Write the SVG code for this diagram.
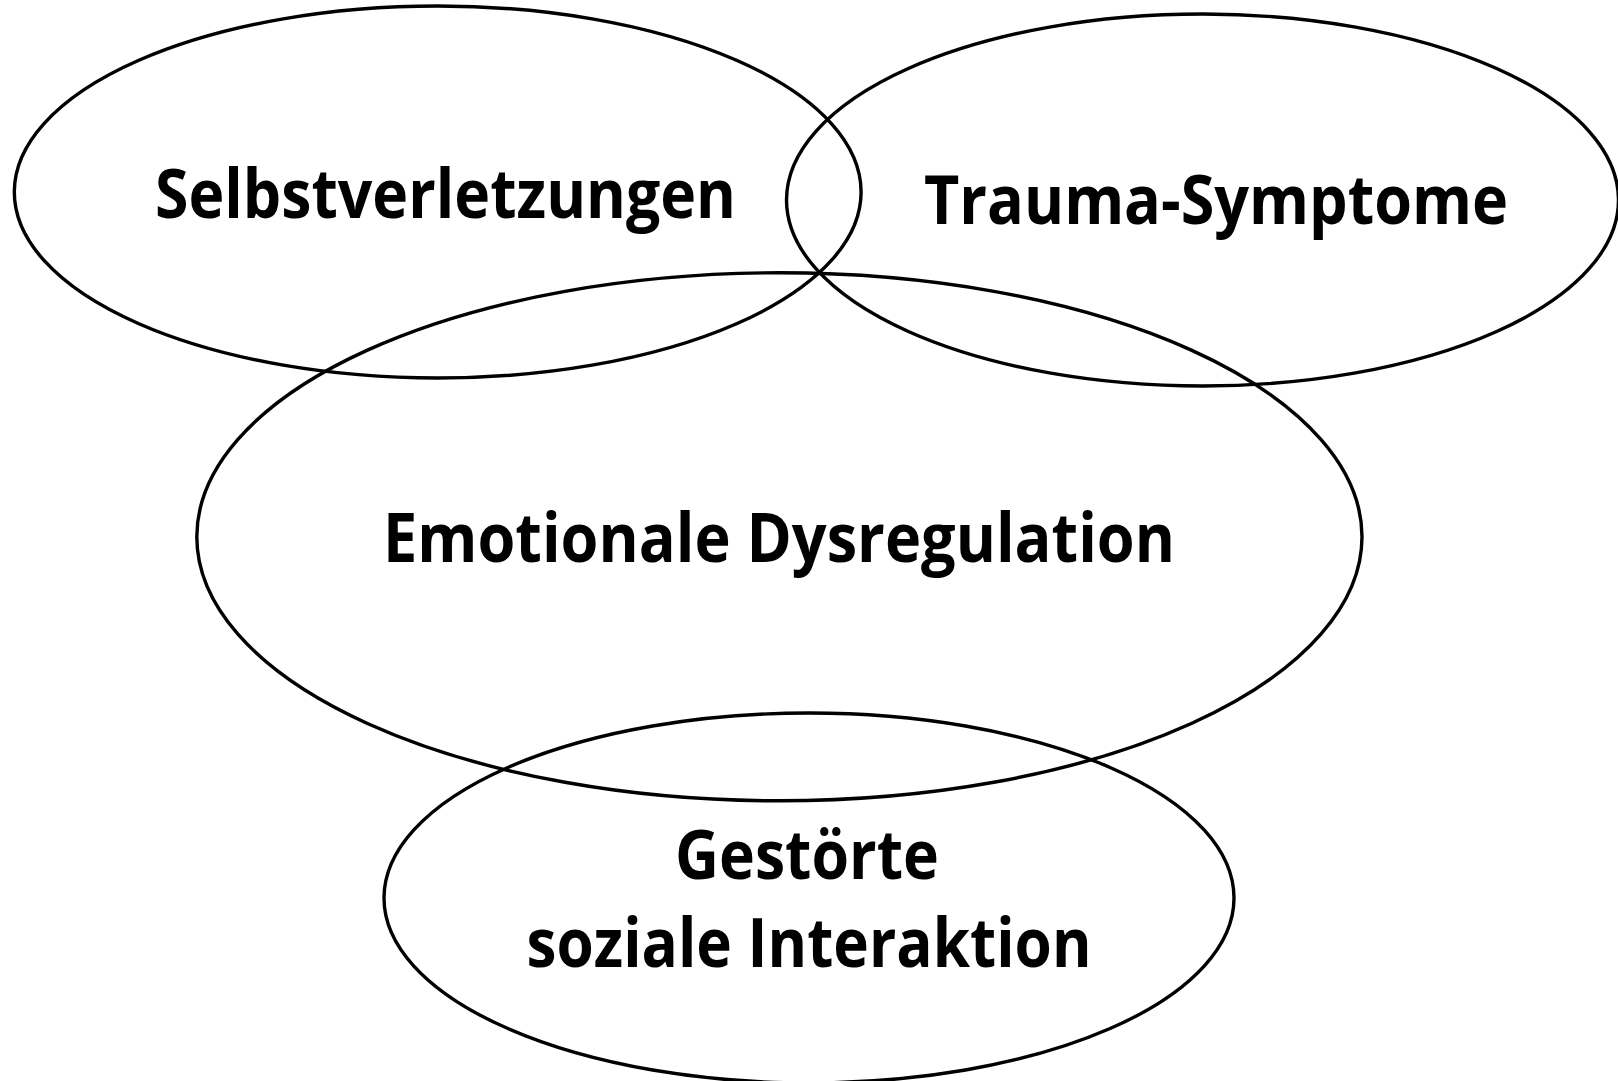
<svg xmlns="http://www.w3.org/2000/svg" width="1618" height="1081" viewBox="0 0 1618 1081">
<style>
.node ellipse{fill:none;stroke:#000;stroke-width:3.4}
.node text{font-family:"Open Sans","Liberation Sans",sans-serif;font-weight:700;font-size:68px;fill:#000;text-anchor:middle}
</style>
<rect width="1618" height="1081" fill="#fff"/>
<g id="selbstverletzungen" class="node">
<ellipse cx="437.7" cy="192" rx="423.4" ry="186"/>
<text x="445.5" y="218" textLength="581" lengthAdjust="spacingAndGlyphs">Selbstverletzungen</text>
</g>
<g id="trauma-symptome" class="node">
<ellipse cx="1202.5" cy="200" rx="416" ry="186"/>
<text x="1216" y="224" textLength="584" lengthAdjust="spacingAndGlyphs">Trauma-Symptome</text>
</g>
<g id="emotionale-dysregulation" class="node">
<ellipse cx="779.4" cy="536.8" rx="582.6" ry="264"/>
<text x="779" y="562" textLength="792" lengthAdjust="spacingAndGlyphs">Emotionale Dysregulation</text>
</g>
<g id="gestoerte-soziale-interaktion" class="node">
<ellipse cx="809" cy="898" rx="425" ry="185"/>
<text x="807" y="879" textLength="264" lengthAdjust="spacingAndGlyphs">Gestörte</text>
<text x="809" y="967" textLength="565" lengthAdjust="spacingAndGlyphs">soziale Interaktion</text>
</g>
<g id="connectors"></g>
</svg>
